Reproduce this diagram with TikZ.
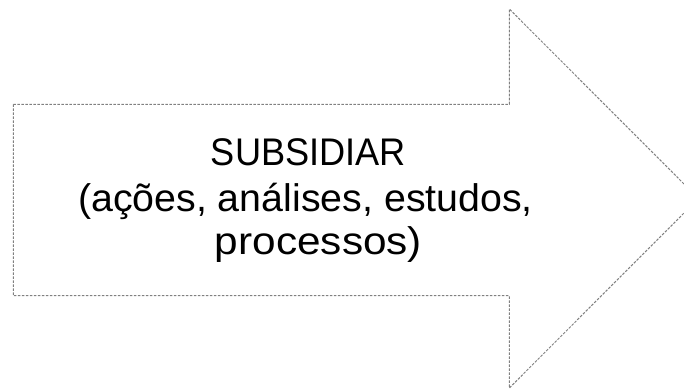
\documentclass[tikz,border=0pt]{standalone}
\usepackage{fontspec}
\setmainfont{Liberation Sans}
\begin{document}
\begin{tikzpicture}[x=1pt,y=-1pt,
  outline/.style={draw=black!50, line width=1pt, dash pattern=on 2.6pt off 1.4pt, fill=white},
  label/.style={anchor=base, inner sep=0pt, font=\fontsize{38.5}{44}\selectfont, text=black}]
\useasboundingbox (0,0) rectangle (684,390);
\clip (0,0) rectangle (684,390);
\coordinate (a1) at (13.3,104.3);
\coordinate (a2) at (509.3,104.3);
\coordinate (a3) at (509.3,9);
\coordinate (tip) at (698.5,198.5);
\coordinate (a5) at (509.3,388);
\coordinate (a6) at (509.3,295.7);
\coordinate (a7) at (13.3,295.7);
\draw[outline] (a1) -- (a2) -- (a3) -- (tip) -- (a5) -- (a6) -- (a7) -- cycle;
\node[label] (t1) at (308.5,165) {\scalebox{0.94}[1]{SUBSIDIAR}};
\node[label] (t2) at (305.5,211) {\scalebox{1.022}[1]{(ações, análises, estudos,}};
\node[label] (t3) at (318.5,254) {\scalebox{1.10}[1]{processos)}};
\end{tikzpicture}
\end{document}
